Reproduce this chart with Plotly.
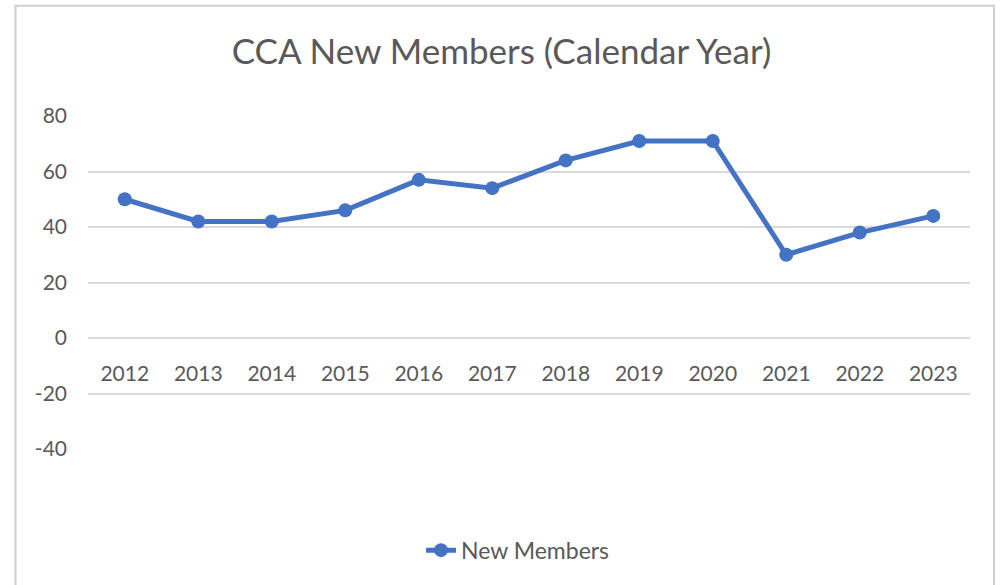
import plotly.graph_objects as go

years = ["2012", "2013", "2014", "2015", "2016", "2017", "2018", "2019", "2020", "2021", "2022", "2023"]
new_members = [50, 42, 42, 46, 57, 54, 64, 71, 71, 30, 38, 44]
y_ticks = [-40, -20, 0, 20, 40, 60, 80]
y_tick_text = [str(v) for v in y_ticks]

W, H = 1003, 585
L, R, T, B = 88, 970, 115.5, 449.5

fig = go.Figure()
fig.add_trace(go.Scatter(
    x=years, y=new_members, mode="lines+markers", name="New Members",
    line=dict(color="#4472C4", width=5),
    marker=dict(color="#4472C4", size=14),
))

fig.update_layout(
    width=W, height=H,
    margin=dict(l=L, r=W - R, t=T, b=H - B, pad=0),
    paper_bgcolor="white", plot_bgcolor="white",
    font=dict(family="Lato, 'Open Sans', sans-serif", color="#595959", size=21),
    title=dict(text="CCA New Members (Calendar Year)", x=0.5, xanchor="center",
               y=1 - 52 / H, yanchor="middle",
               font=dict(size=35, color="#595959")),
    showlegend=True,
    legend=dict(orientation="h", x=(518 - L) / (R - L), xanchor="center",
                y=(B - 551) / (B - T), yanchor="middle",
                font=dict(size=23, color="#595959")),
    xaxis=dict(type="category", anchor="free", position=40 / 120,
               range=[-0.5, len(years) - 0.5],
               showgrid=False, showline=False, ticks="", ticklabelstandoff=21,
               tickfont=dict(size=21, color="#595959")),
    yaxis=dict(range=[-40, 80], tickvals=y_ticks, ticktext=y_tick_text,
               showgrid=True, gridcolor="#d9d9d9",
               gridwidth=1.5, zeroline=False, showline=False, ticks="",
               ticklabelstandoff=20, tickfont=dict(size=21, color="#595959")),
)

# outer chart border (Excel chart area)
fig.add_shape(type="rect", xref="paper", yref="paper",
              x0=(15.5 - L) / (R - L), x1=(994 - L) / (R - L),
              y0=(B - 620) / (B - T), y1=(B - 5) / (B - T),
              line=dict(color="#d0d0d0", width=2), fillcolor="rgba(0,0,0,0)", layer="below")

fig.write_html("out.html", config={"displayModeBar": False},
               post_script="document.body.style.margin='0';")
